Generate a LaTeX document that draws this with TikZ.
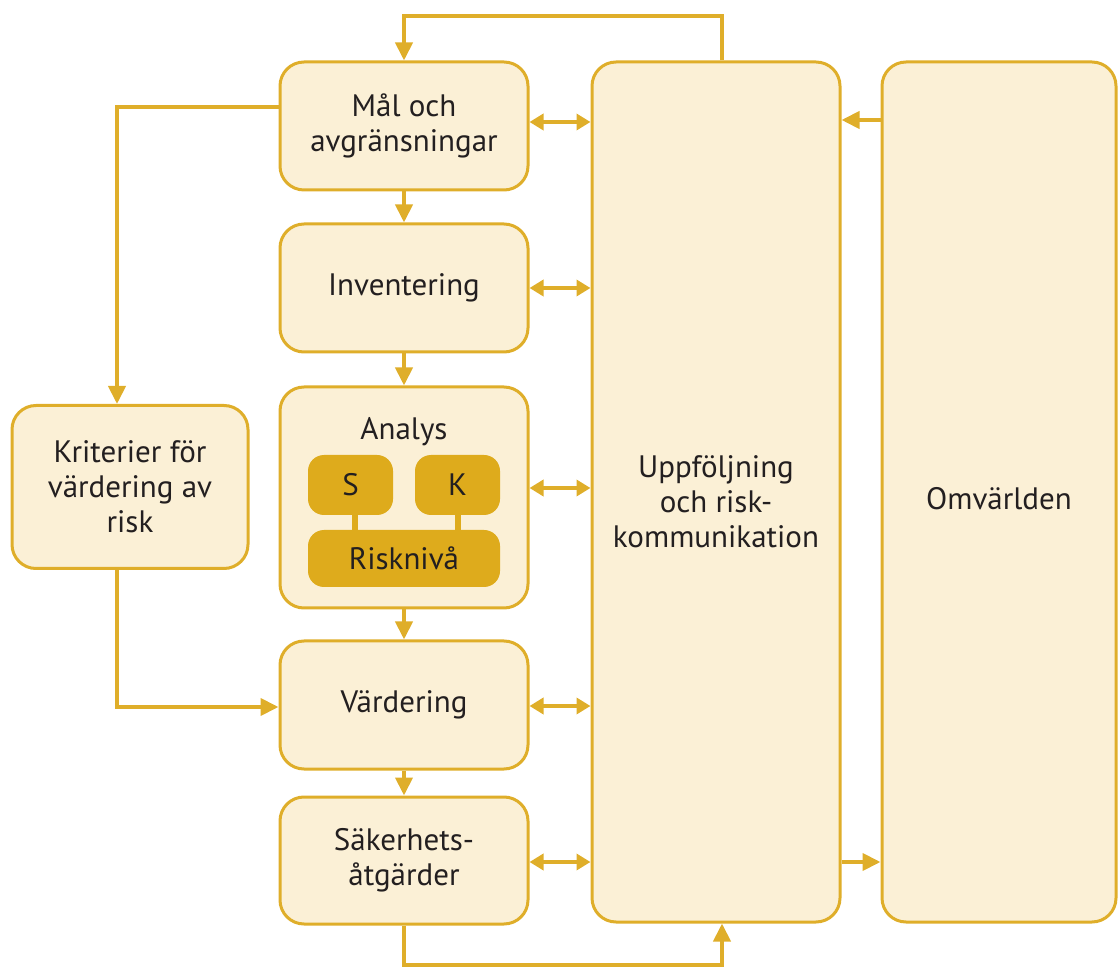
\documentclass[tikz,border=0pt]{standalone}
\usepackage{fontspec}
\setmainfont{PT Sans}
\usetikzlibrary{arrows.meta,calc}
\definecolor{gold}{HTML}{DFAE2A}
\definecolor{cream}{HTML}{FBF0D6}
\definecolor{inner}{HTML}{DEAB1C}
\definecolor{txt}{HTML}{231F20}
\begin{document}
\begin{tikzpicture}[x=0.5pt,y=-0.5pt,
  box/.style={draw=gold,line width=1.5pt,fill=cream,rounded corners=12pt,
    minimum width=124pt,minimum height=64pt,align=center,text=txt,
    font=\fontsize{15.5}{17.5}\selectfont,inner sep=0pt},
  ibox/.style={draw=none,fill=inner,rounded corners=8pt,align=center,text=txt,
    font=\fontsize{15.5}{17.5}\selectfont,inner sep=0pt},
  lbl/.style={text=txt,align=center,font=\fontsize{15.5}{17.5}\selectfont,inner sep=0pt},
  arr/.style={draw=gold,line width=2pt,-{Triangle[length=9pt,width=8.5pt]}},
  darr/.style={draw=gold,line width=2pt,{Triangle[length=7pt,width=8pt]}-{Triangle[length=7pt,width=8pt]}},
  lnk/.style={draw=gold,line width=2pt}]
\useasboundingbox (0,0) rectangle (1119,967);
% main boxes
\node[box] (mal) at (404,126) {Mål och\\avgränsningar};
\node[box] (inv) at (404,288) {Inventering};
\node[box,minimum height=110.5pt] (ana) at (404,497.5) {};
\node[box] (var) at (404,705) {Värdering};
\node[box,minimum height=63.5pt] (sak) at (404,860.5) {Säkerhets-\\åtgärder};
\node[box,minimum width=118pt,minimum height=81.5pt] (kri) at (130,487) {Kriterier för\\värdering av\\risk};
\node[box,minimum height=430pt] (upp) at (716,492) {};
\node[lbl] (uppt) at (716,502) {Uppföljning\\och risk-\\kommunikation};
\node[box,minimum width=117pt,minimum height=430pt] (omv) at (999,492) {};
\node[lbl] (omvt) at (999,499) {Omvärlden};
% analysis contents
\node[lbl] (anl) at (404,432) {Analys};
\node[ibox,minimum width=42.5pt,minimum height=30pt] (s) at (350.5,485) {S};
\node[ibox,minimum width=42.5pt,minimum height=30pt] (k) at (457.5,485) {K};
\node[ibox,minimum width=96pt,minimum height=28.5pt] (rn) at (404,558.5) {Risknivå};
\draw[draw=inner,line width=3pt] ([xshift=2pt]s.south) -- ([xshift=2pt]s.south |- rn.north);
\draw[draw=inner,line width=3pt] (k.south) -- (k.south |- rn.north);
% vertical flow
\draw[arr] (mal) -- (inv);
\draw[arr] (inv) -- (ana);
\draw[arr] (ana) -- (var);
\draw[arr] (var) -- (sak);
% top loop
\coordinate (ut) at ($(upp.north)+(6,0)$);
\draw[arr] (ut) -- ++(0,-44) -| (mal.north);
% bottom loop
\coordinate (ub) at ($(upp.south)+(6,0)$);
\draw[arr] (sak.south) -- ++(0,39) -| (ub);
% left branch
\coordinate (kt) at ($(kri.north)+(-13,0)$);
\coordinate (kb) at ($(kri.south)+(-13,0)$);
\draw[arr] ($(mal.west)+(0,-19)$) -| (kt);
\draw[arr] (kb) |- ($(var.west)+(0,2)$);
% double arrows
\draw[darr] ($(mal.east)+(0,-4)$) -- ($(mal.east -| upp.west)+(0,-4)$);
\draw[darr] (inv.east) -- (inv.east -| upp.west);
\draw[darr] ($(ana.east)+(0,-9.5)$) -- ($(ana.east -| upp.west)+(0,-9.5)$);
\draw[darr] ($(var.east)+(0,1)$) -- ($(var.east -| upp.west)+(0,1)$);
\draw[darr] ($(sak.east)+(0,1.5)$) -- ($(sak.east -| upp.west)+(0,1.5)$);
% Omvärlden links
\draw[arr] ($(omv.west |- mal.east)+(0,-6)$) -- ($(upp.east |- mal.east)+(0,-6)$);
\draw[arr] ($(upp.east |- sak.east)+(0,1.5)$) -- ($(omv.west |- sak.east)+(0,1.5)$);
\end{tikzpicture}
\end{document}
